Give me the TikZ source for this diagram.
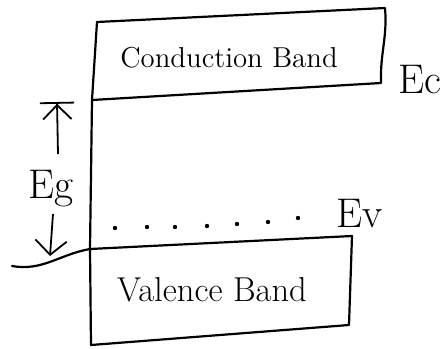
\documentclass[tikz,border=0pt]{standalone}
\usetikzlibrary{arrows.meta,positioning}
\tikzset{
  band/.style = {draw=black, line width=1.1pt, line join=round, line cap=round},
  lbl/.style  = {font=\Large, inner sep=1pt},
  ar/.style   = {-{Straight Barb[length=2.5mm, width=5.5mm]}, line width=0.9pt},
  arb/.style  = {-{Straight Barb[length=2.5mm, width=5mm] Bar[width=6mm, line width=0.9pt, sep=0pt]}, line width=0.9pt},
}
\begin{document}
\begin{tikzpicture}[x=0.5pt, y=-0.5pt]
  \useasboundingbox (0,0) rectangle (446,349);
  % band edges
  \coordinate (cbtl) at (97,22);
  \coordinate (cbtr) at (385,8);
  \coordinate (cbbr) at (381,83);
  \coordinate (cbbl) at (92,100);
  \coordinate (vbtl) at (90,249);
  \coordinate (vbtr) at (352,236);
  \coordinate (vbbr) at (349,325);
  \coordinate (vbbl) at (91,345);
  \coordinate (lin) at (12,266);
  % conduction band
  \draw[band] (cbtl) -- (cbtr) to[out=-85, in=92] (cbbr) -- (cbbl);
  % valence band
  \draw[band] (vbtl) -- (vbtr) -- (vbbr) -- (vbbl);
  % common left edge
  \draw[band] (cbtl) -- (cbbl) -- (vbtl) -- (vbbl);
  \draw[band] (lin) to[out=-10, in=190] (vbtl);
  % dots
  \foreach \x/\y in {115/228,147/227,175/227,207/226,237/224,268/222,298/218}
    \fill (\x,\y) circle (2.2);
  % labels
  \node[lbl] (cbtext) at (229,58) {Conduction Band};
  \node[lbl, font=\LARGE] (vbtext) at (212,290) {Valence Band};
  \node[lbl, font=\huge] (ec) at (420,80) {Ec};
  \node[lbl, font=\huge] (ev) at (360,214) {Ev};
  \node[lbl, font=\huge] (eg) at (51,189) {Eg};
  % gap arrows
  \coordinate (gtop) at (57,102);
  \coordinate (gbot) at (50,256);
  \draw[arb] (58,154) -- (gtop);
  \draw[ar] (53,214) coordinate (gs) -- (gbot);
\end{tikzpicture}
\end{document}
